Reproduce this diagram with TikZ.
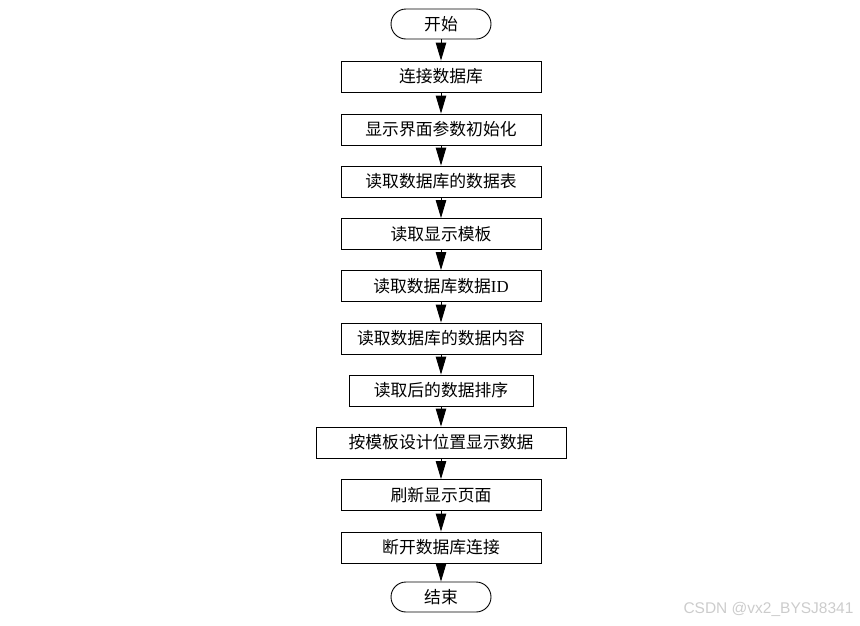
\documentclass[tikz,border=0pt]{standalone}
\usepackage{fontspec}
\setmainfont{Liberation Serif}
\newfontfamily\cjk{Noto Sans CJK SC}
\usetikzlibrary{arrows.meta}
\begin{document}
\begin{tikzpicture}[x=1pt,y=-1pt,
  stepbox/.style={draw,line width=0.9pt,minimum height=31pt,inner sep=0pt,font=\fontsize{16.8}{18}\selectfont\cjk},
  term/.style={draw,line width=0.9pt,minimum width=100pt,minimum height=30pt,rounded corners=15pt,inner sep=0pt,font=\fontsize{16.8}{18}\selectfont\cjk},
  flow/.style={line width=0.9pt,-{Triangle[length=18pt,width=10.5pt]}}]
\useasboundingbox (0,0) rectangle (860,625);
\node[term] (s) at (441,24) {开始};
\node[stepbox,minimum width=200pt] (b1) at (441,76.5) {连接数据库};
\node[stepbox,minimum width=200pt] (b2) at (441,129.5) {显示界面参数初始化};
\node[stepbox,minimum width=200pt] (b3) at (441,181.5) {读取数据库的数据表};
\node[stepbox,minimum width=200pt] (b4) at (441,234) {读取显示模板};
\node[stepbox,minimum width=200pt] (b5) at (441,286) {读取数据库数据{\fontsize{16.8}{18}\rmfamily ID}};
\node[stepbox,minimum width=200pt] (b6) at (441,338.5) {读取数据库的数据内容};
\node[stepbox,minimum width=184pt] (b7) at (441,390.5) {读取后的数据排序};
\node[stepbox,minimum width=250pt] (b8) at (441,442.5) {按模板设计位置显示数据};
\node[stepbox,minimum width=200pt] (b9) at (441,495) {刷新显示页面};
\node[stepbox,minimum width=200pt] (b10) at (441,547.5) {断开数据库连接};
\node[term] (e) at (441,597) {结束};
\draw[flow] (s) -- (b1);
\draw[flow] (b1) -- (b2);
\draw[flow] (b2) -- (b3);
\draw[flow] (b3) -- (b4);
\draw[flow] (b4) -- (b5);
\draw[flow] (b5) -- (b6);
\draw[flow] (b6) -- (b7);
\draw[flow] (b7) -- (b8);
\draw[flow] (b8) -- (b9);
\draw[flow] (b9) -- (b10);
\draw[flow] (b10) -- (e);
\node[anchor=east,text=black!20,font=\fontsize{15.5}{17}\selectfont\fontspec{Liberation Sans}] (wm) at (857,609) {CSDN @vx2\_BYSJ8341};
\end{tikzpicture}
\end{document}
